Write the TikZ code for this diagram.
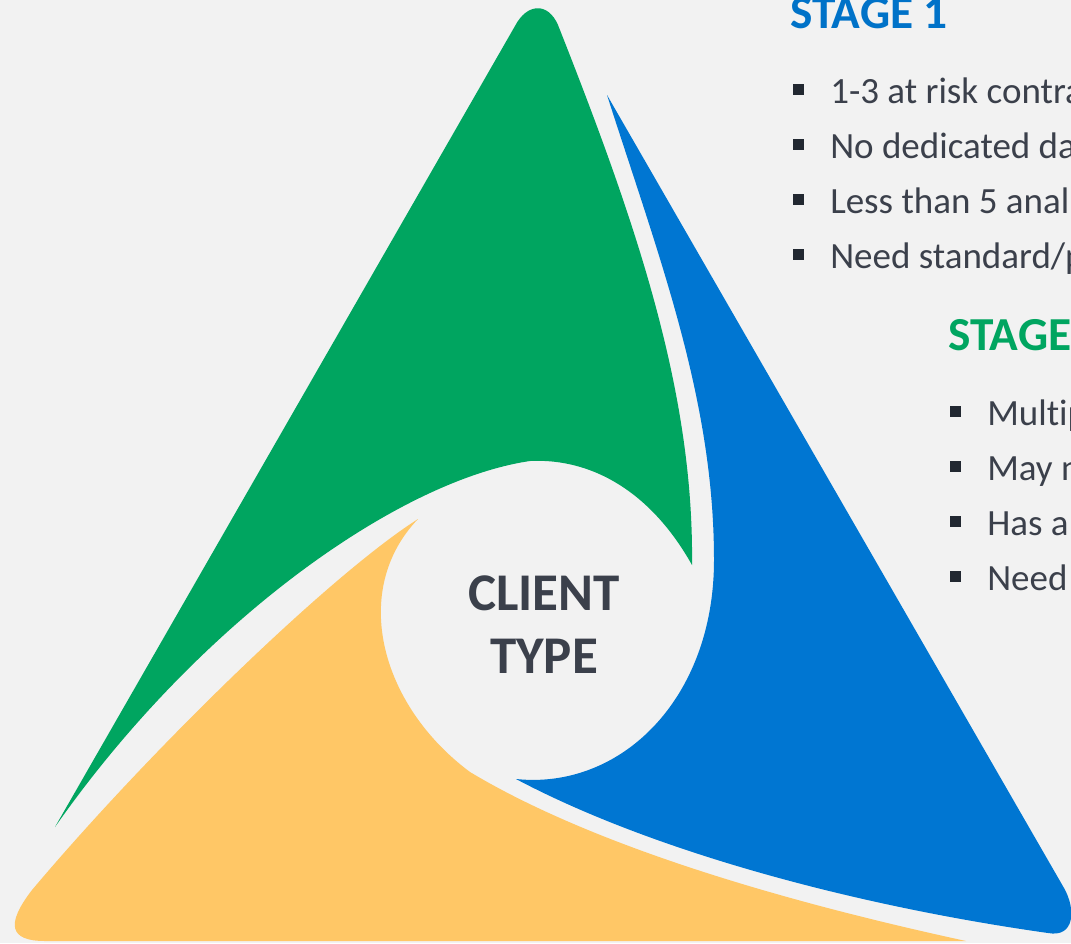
\documentclass[tikz,border=0pt]{standalone}
\usepackage{fontspec}
\setmainfont{Carlito}[Ligatures={NoCommon}]
\definecolor{bg}{RGB}{242,242,242}
\definecolor{gr}{RGB}{0,165,96}
\definecolor{bl}{RGB}{0,118,210}
\definecolor{ye}{RGB}{255,199,102}
\definecolor{titleblue}{RGB}{0,114,200}
\definecolor{txt}{RGB}{59,64,75}
\definecolor{bulc}{RGB}{34,40,49}
\newcommand\bsq{{\color{bulc}\rule[6pt]{8.25pt}{8.25pt}}\hspace{19.5pt}}
\tikzset{
  bul/.style={anchor=base west, inner sep=0pt, text=txt, font=\fontsize{27.75}{33}\selectfont},
  stagetitle/.style={anchor=base west, inner sep=0pt, font=\bfseries\fontsize{35.5}{42}\selectfont},
  centertext/.style={anchor=base, inner sep=0pt, align=center, text=txt, font=\bfseries\fontsize{39.75}{47.25}\selectfont}
}
\begin{document}
\begin{tikzpicture}[x=0.75pt,y=-0.75pt]
\useasboundingbox (0,0) rectangle (1071,943);
\clip (0,0) rectangle (1071,943);
\fill[bg] (0,0) rectangle (1071,943);
% green
\fill[gr] (55,827) -- (515,26) .. controls (527,3) and (548,2) .. (558,25)
  .. controls (635,220) and (694,390) .. (692,565)
  .. controls (650,490) and (590,458) .. (530,461)
  .. controls (400,480) and (200,620) .. (55,827)
  -- cycle;
% blue
\fill[bl] (607,95) -- (1064,888) .. controls (1076,909) and (1075,938) .. (1048,933)
  .. controls (850,905) and (650,850) .. (516,779)
  .. controls (620,790) and (714,700) .. (714,560)
  .. controls (714,400) and (660,260) .. (607,95)
  -- cycle;
% yellow
\fill[ye] (418,519) .. controls (330,575) and (150,750) .. (32,890)
  .. controls (5,925) and (10,941) .. (45,941) -- (966,941)
  .. controls (800,905) and (600,850) .. (470,772)
  .. controls (380,705) and (350,590) .. (418,519)
  -- cycle;
% centre
\node[centertext] (center) at (544,673) {CLIENT\\TYPE};
% stage 1
\node[stagetitle, text=titleblue] (t1) at (790,28) {STAGE 1};
\node[bul] (b11) at (793,103) {\bsq 1-3 at risk contra};
\node[bul] (b12) at (793,158) {\bsq No dedicated da};
\node[bul] (b13) at (793,213) {\bsq Less than 5 anal};
\node[bul] (b14) at (793,268) {\bsq Need standard/p};
% stage 2
\node[stagetitle, text=gr] (t2) at (948,350) {STAGE};
\node[bul] (b21) at (950,425) {\bsq Multip};
\node[bul] (b22) at (950,480) {\bsq May n};
\node[bul] (b23) at (950,535) {\bsq Has a};
\node[bul] (b24) at (950,590) {\bsq Need};
\end{tikzpicture}
\end{document}
